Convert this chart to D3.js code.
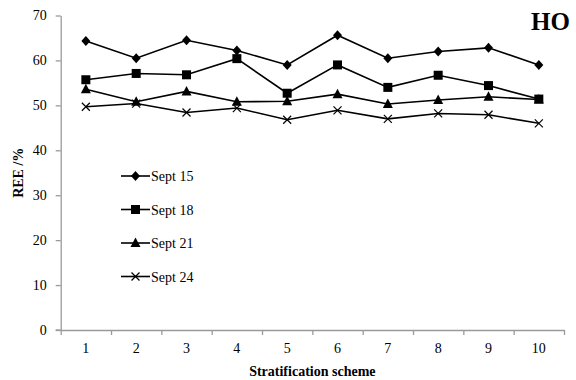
<!DOCTYPE html>
<html>
<head>
<meta charset="utf-8">
<script src="https://cdn.jsdelivr.net/npm/d3@7"></script>
<style>
  html, body { margin: 0; padding: 0; background: #fff; }
  svg { display: block; }
  svg text { font-family: 'Liberation Serif', 'Times New Roman', serif !important; }
</style>
</head>
<body>
<svg id="chart" width="576" height="380"></svg>
<script>
const categories = ["1","2","3","4","5","6","7","8","9","10"];
const seriesNames = ["Sept 15","Sept 18","Sept 21","Sept 24"];
const sept15 = [64.3, 60.5, 64.5, 62.2, 59.0, 65.6, 60.5, 62.0, 62.8, 59.0];
const sept18 = [55.7, 57.1, 56.8, 60.4, 52.7, 59.0, 54.0, 56.7, 54.4, 51.4];
const sept21 = [53.6, 50.8, 53.1, 50.8, 50.9, 52.5, 50.3, 51.2, 51.9, 51.3];
const sept24 = [49.7, 50.4, 48.4, 49.4, 46.8, 48.9, 47.0, 48.2, 47.9, 46.0];
const yTicks = [0, 10, 20, 30, 40, 50, 60, 70];
const markers = ["diamond", "square", "triangle", "cross"];
const titleText = "HO";
const xTitle = "Stratification scheme";
const yTitle = "REE /%";

const series = [sept15, sept18, sept21, sept24];
const FONT = "'Liberation Serif', 'Times New Roman', serif";

const svg = d3.select("#chart").attr("font-family", FONT);
const pLeft = 60.7, pRight = 564, pTop = 15.5, pBottom = 330;

const x = d3.scaleBand().domain(categories).range([pLeft, pRight]).padding(0);
const xb = d3.scaleLinear().domain([0, categories.length]).range([pLeft, pRight]);
const y = d3.scaleLinear().domain([0, 70]).range([pBottom, pTop]);
const axisColor = "#9a9a9a";

// Y axis
const gy = svg.append("g").attr("transform", `translate(${pLeft},0)`)
  .call(d3.axisLeft(y).tickValues(yTicks).tickSize(5).tickPadding(9).tickSizeOuter(0))
  .attr("font-family", FONT).attr("font-size", 14);
gy.select(".domain").attr("stroke", axisColor).attr("stroke-width", 1.3);
gy.selectAll(".tick line").attr("stroke", axisColor).attr("stroke-width", 1.3);
gy.selectAll(".tick text").attr("fill", "#000");

// X axis tick marks at band boundaries
const gxb = svg.append("g").attr("transform", `translate(0,${pBottom})`)
  .call(d3.axisBottom(xb).tickValues(d3.range(0, categories.length + 1)).tickSize(5).tickFormat("").tickSizeOuter(0));
gxb.select(".domain").attr("stroke", axisColor).attr("stroke-width", 1.3);
gxb.selectAll(".tick line").attr("stroke", axisColor).attr("stroke-width", 1.3);
svg.append("line").attr("x1", pLeft - 5).attr("x2", pLeft).attr("y1", pBottom).attr("y2", pBottom)
  .attr("stroke", axisColor).attr("stroke-width", 1.3);

// X labels
const gx = svg.append("g").attr("transform", `translate(0,${pBottom})`)
  .call(d3.axisBottom(x).tickSize(0).tickPadding(13))
  .attr("font-family", FONT).attr("font-size", 14);
gx.select(".domain").remove();
gx.selectAll(".tick text").attr("fill", "#000");

// Axis titles
svg.append("text").attr("x", (pLeft + pRight) / 2).attr("y", 376)
  .attr("text-anchor", "middle").attr("font-size", 14).attr("font-weight", "bold")
  .text(xTitle);
svg.append("text").attr("transform", `translate(23,${(pTop + pBottom) / 2}) rotate(-90)`)
  .attr("text-anchor", "middle").attr("font-size", 14).attr("font-weight", "bold")
  .text(yTitle);

// Chart label
svg.append("text").attr("x", 570).attr("y", 30).attr("text-anchor", "end")
  .attr("font-size", 25).attr("font-weight", "bold").text(titleText);

function drawMarker(g, type, cx, cy) {
  if (type === "diamond") {
    g.append("path").attr("d", `M${cx},${cy-5}L${cx+4.5},${cy}L${cx},${cy+5}L${cx-4.5},${cy}Z`).attr("fill", "#000");
  } else if (type === "square") {
    g.append("rect").attr("x", cx - 4.5).attr("y", cy - 4.5).attr("width", 9).attr("height", 9).attr("fill", "#000");
  } else if (type === "triangle") {
    g.append("path").attr("d", `M${cx},${cy-5.5}L${cx+5},${cy+4}L${cx-5},${cy+4}Z`).attr("fill", "#000");
  } else {
    g.append("path").attr("d", `M${cx-4},${cy-4}L${cx+4},${cy+4}M${cx-4},${cy+4}L${cx+4},${cy-4}`)
      .attr("stroke", "#000").attr("stroke-width", 1.2).attr("fill", "none");
  }
}

const line = d3.line().x((d, i) => x(categories[i]) + x.bandwidth() / 2).y(d => y(d));

series.forEach((vals, si) => {
  const g = svg.append("g");
  g.append("path").datum(vals).attr("d", line).attr("fill", "none")
    .attr("stroke", "#000").attr("stroke-width", 1.6);
  vals.forEach((v, i) => drawMarker(g, markers[si], x(categories[i]) + x.bandwidth() / 2, y(v)));
});

// Legend
const legY = [176, 209.5, 243, 276.5];
seriesNames.forEach((name, si) => {
  const g = svg.append("g");
  const ly = legY[si];
  g.append("line").attr("x1", 121).attr("x2", 150).attr("y1", ly).attr("y2", ly)
    .attr("stroke", "#000").attr("stroke-width", 1.6);
  drawMarker(g, markers[si], 135.5, ly);
  g.append("text").attr("x", 151).attr("y", ly + 5).attr("font-size", 14).text(name);
});
</script>
</body>
</html>
